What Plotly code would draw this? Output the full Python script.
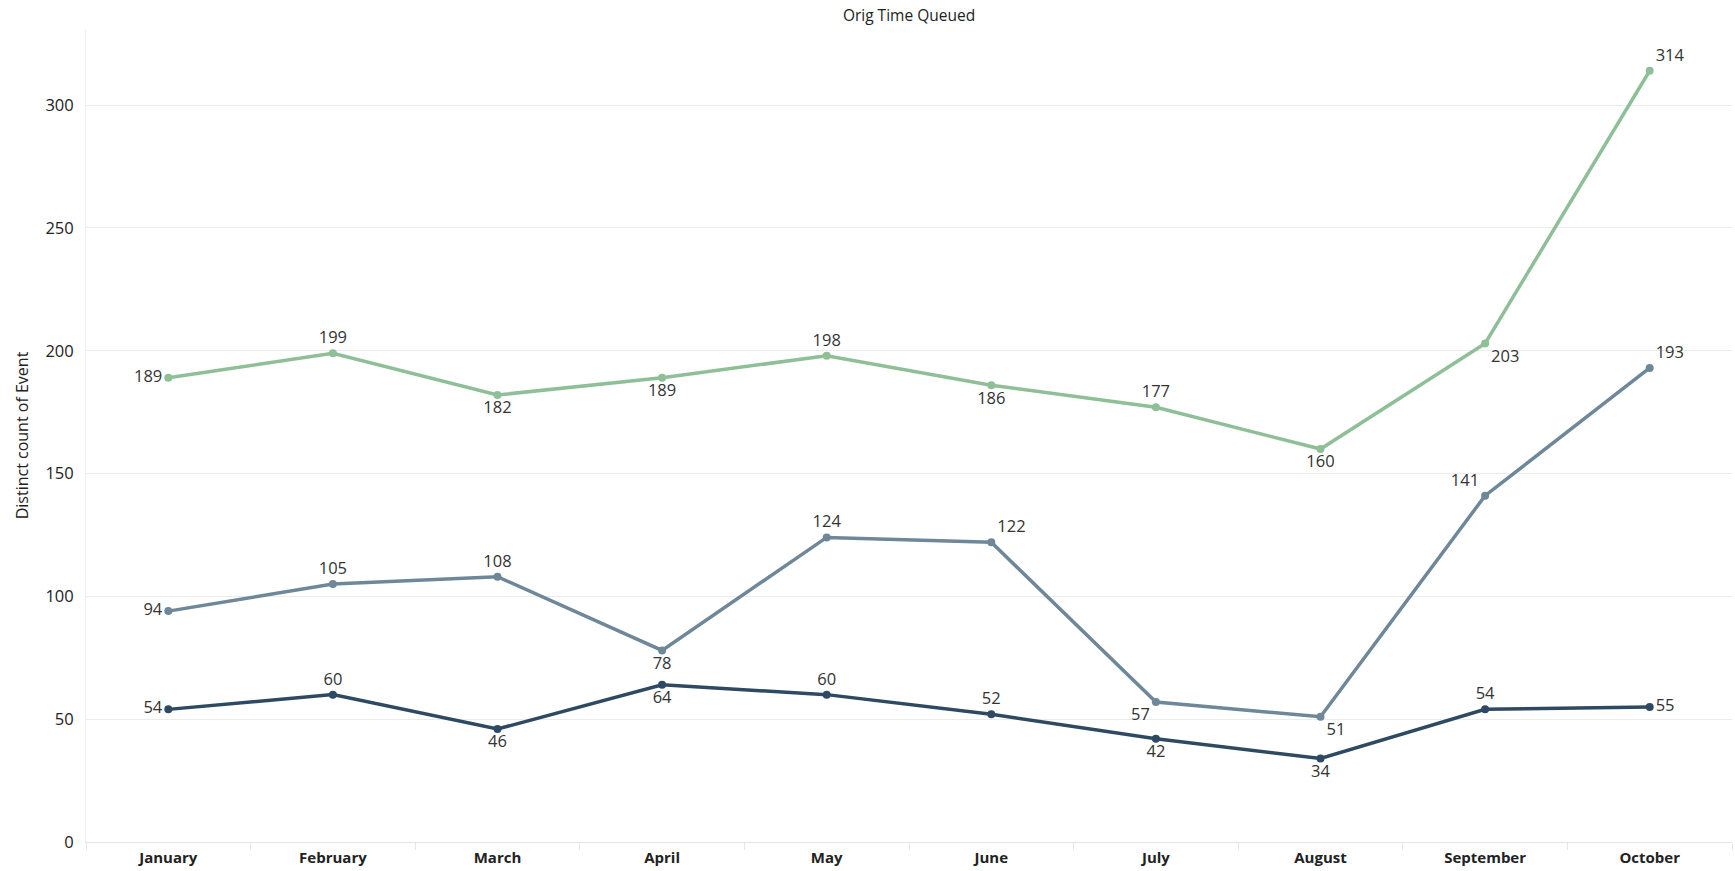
import plotly.graph_objects as go

months = ["January", "February", "March", "April", "May", "June",
          "July", "August", "September", "October"]
series_top = [189, 199, 182, 189, 198, 186, 177, 160, 203, 314]
series_mid = [94, 105, 108, 78, 124, 122, 57, 51, 141, 193]
series_low = [54, 60, 46, 64, 60, 52, 42, 34, 54, 55]

pos_top = ["middle left", "top center", "bottom center", "bottom center", "top center",
           "bottom center", "top center", "bottom center", "bottom right", "top right"]
pos_mid = ["middle left", "top center", "top center", "bottom center", "top center",
           "top right", "bottom left", "bottom right", "top left", "top right"]
pos_low = ["middle left", "top center", "bottom center", "bottom center", "top center",
           "top center", "bottom center", "bottom center", "top center", "middle right"]

colors = {"top": "#8fbf97", "mid": "#6e8799", "low": "#2e4a62"}
FONT = "Open Sans"

fig = go.Figure()
for vals, pos, col in [(series_top, pos_top, colors["top"]),
                       (series_mid, pos_mid, colors["mid"]),
                       (series_low, pos_low, colors["low"])]:
    fig.add_trace(go.Scatter(
        x=months, y=vals, mode="lines+markers+text",
        text=[str(v) for v in vals], textposition=pos,
        textfont=dict(family=FONT, size=16.5, color="#333333"),
        line=dict(color=col, width=3.5),
        marker=dict(color=col, size=8),
        showlegend=False, cliponaxis=False,
    ))

fig.update_layout(
    width=1735, height=871,
    margin=dict(l=86, r=3, t=29, b=29, autoexpand=False),
    paper_bgcolor="white", plot_bgcolor="white",
    title=dict(text="Orig Time Queued", x=0.5, xref="paper", xanchor="center",
               y=1 - 16 / 871, yref="container", yanchor="middle", automargin=False,
               font=dict(family=FONT, size=15.5, color="#222222")),
    font=dict(family=FONT, color="#222222"),
)
fig.update_xaxes(
    type="category", range=[-0.5, 9.5], tickson="boundaries",
    ticks="outside", ticklen=7, tickcolor="#e6e6e6",
    showgrid=False, showline=True, linecolor="#e6e6e6", linewidth=1,
    automargin=False, ticklabelstandoff=2,
    tickfont=dict(family=FONT, size=15, color="#222222", weight="bold"),
)
fig.update_yaxes(
    range=[0, 331], tickvals=[0, 50, 100, 150, 200, 250, 300],
    showgrid=True, gridcolor="#ececec", gridwidth=1,
    zeroline=False, showline=True, linecolor="#eeeeee",
    ticks="", automargin=False, ticklabelstandoff=8,
    tickfont=dict(family=FONT, size=16.5, color="#222222"),
    title=dict(text="Distinct count of Event", standoff=12,
               font=dict(family=FONT, size=16, color="#222222")),
)

fig.write_html("out.html", config={"displayModeBar": False},
               post_script="document.body.style.margin='0';document.body.style.overflow='hidden';")
